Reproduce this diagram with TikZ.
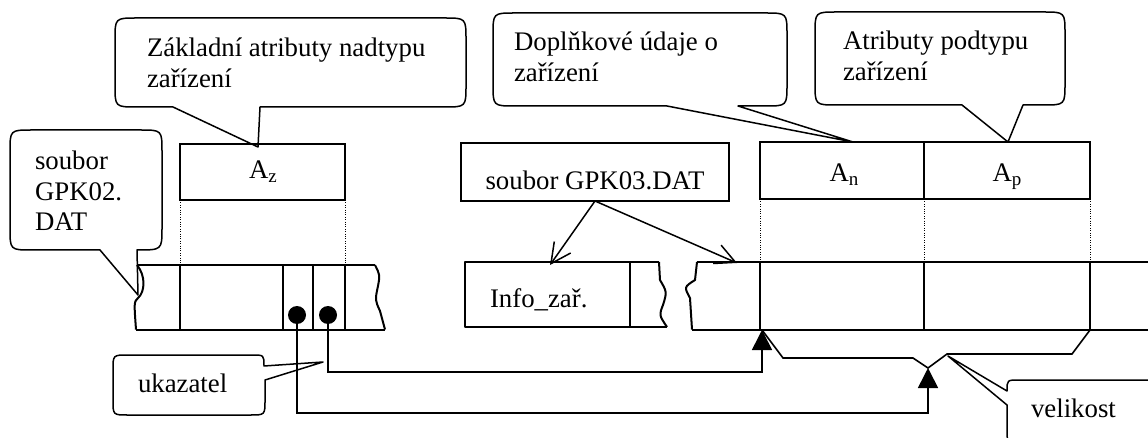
\documentclass[tikz,border=0pt]{standalone}
\usepackage{fontspec}
\setmainfont{Liberation Serif}
\usetikzlibrary{arrows.meta}
\begin{document}
\begin{tikzpicture}[x=1pt,y=-1pt,
  every node/.style={inner sep=0pt, outer sep=0pt, font=\fontsize{26.8}{30.5}\selectfont},
  bubble/.style={draw=black, line width=1.5pt, fill=white, line join=round},
  field/.style={draw=black, line width=2.5pt},
  rec/.style={line width=2pt, line join=round},
  sep/.style={line width=1.6pt},
  guide/.style={line width=1pt, dash pattern=on 1pt off 1.4pt},
  ptr/.style={line width=1.6pt, -{Triangle[length=20pt,width=20pt]}},
  lead/.style={line width=1.5pt, -{Straight Barb[length=20pt,width=20pt]}},
  txt/.style={anchor=base west, align=left},
  ctr/.style={anchor=base},
  dot/.style={circle, fill=black, minimum size=18pt}
]
\useasboundingbox (0,0) rectangle (1148,438);
\fill[white] (0,0) rectangle (1148,438);
\clip (0,0) rectangle (1148,438);

% ---- callout shapes ----
% Základní atributy nadtypu zařízení
\draw[bubble] (173,107) -- (258,147) -- (260,107) -- (444,107)
  .. controls (466,107) .. (466,85) -- (466,40) .. controls (466,18) .. (444,18)
  -- (137,18) .. controls (115,18) .. (115,40) -- (115,85)
  .. controls (115,107) .. (137,107) -- cycle;
% soubor GPK02.DAT
\draw[bubble] (100,250) -- (138,295) -- (137,250)
  .. controls (162,250) .. (162,228) -- (162,152) .. controls (162,130) .. (140,130)
  -- (32,130) .. controls (10,130) .. (10,152) -- (10,228)
  .. controls (10,250) .. (32,250) -- cycle;
% Doplňkové údaje o zařízení
\draw[bubble] (667,106) -- (853,142) -- (738,106) -- (765,106)
  .. controls (787,106) .. (787,84) -- (787,35) .. controls (787,13) .. (765,13)
  -- (515,13) .. controls (493,13) .. (493,35) -- (493,84)
  .. controls (493,106) .. (515,106) -- cycle;
% Atributy podtypu zařízení
\draw[bubble] (962,105) -- (1008,142) -- (1023,105) -- (1043,105)
  .. controls (1065,105) .. (1065,83) -- (1065,34) .. controls (1065,12) .. (1043,12)
  -- (837,12) .. controls (815,12) .. (815,34) -- (815,83)
  .. controls (815,105) .. (837,105) -- cycle;
% ukazatel
\draw[bubble] (265,380) -- (323,362) -- (264,366) .. controls (264,355) .. (252,355)
  -- (128,355) .. controls (113,355) .. (113,370) -- (113,400)
  .. controls (113,415) .. (128,415) -- (250,415) .. controls (265,415) .. (265,400) -- cycle;
% velikost
\draw[bubble] (1007,405) -- (948,356) -- (1007,391) .. controls (1007,380) .. (1019,380)
  -- (1160,380) -- (1160,442) -- (1019,442) .. controls (1007,442) .. (1007,430) -- cycle;

% ---- callout texts (anchored at the baseline of the last line) ----
\node[txt] (tZakl) at (147,87.5) {Základní atributy nadtypu\\zařízení};
\node[txt] (tGpk2) at (35,231) {soubor\\GPK02.\\DAT};
\node[txt] (tDopl) at (514,81.5) {Doplňkové údaje o\\zařízení};
\node[txt] (tAtr) at (843,80.5) {Atributy podtypu\\zařízení};
\node[txt] (tUk) at (138,392) {ukazatel};
\node[txt] (tVel) at (1031,417) {velikost};

% ---- attribute boxes ----
\node[field, minimum width=165pt, minimum height=56pt] (Az) at (262.5,172) {};
\node[field, minimum width=164pt, minimum height=57pt] (An) at (842,170.5) {};
\node[field, minimum width=166pt, minimum height=57pt] (Ap) at (1007,170.5) {};
\node[field, minimum width=268pt, minimum height=58pt] (gpk3) at (595,172) {};
\node[ctr] (tAz) at (263,179) {A\raisebox{-4pt}{\fontsize{19}{19}\selectfont z}};
\node[ctr] (tAn) at (844,182) {A\raisebox{-4pt}{\fontsize{19}{19}\selectfont n}};
\node[ctr] (tAp) at (1007,182) {A\raisebox{-4pt}{\fontsize{19}{19}\selectfont p}};
\node[ctr] (tGpk3) at (595,190) {soubor GPK03.DAT};

% ---- record of GPK02.DAT ----
\draw[rec] (137,265) -- (375,265);
\draw[rec] (136,329.5) -- (385,329.5);
\draw[rec] (137,265) .. controls (146,276) and (145,292) .. (138,298)
  .. controls (134,302) .. (136,329.5);
\draw[rec] (375,265) .. controls (380,275) .. (378,286)
  .. controls (375,300) .. (380,311) -- (385,329.5);
\foreach \x in {180,283,313,345} \draw[sep] (\x,265) -- (\x,329.5);
\node[dot] (d1) at (297,315) {};
\node[dot] (d2) at (328,315) {};

% ---- record with Info_zař. ----
\draw[rec] (659,262) -- (465,262) -- (465,327) -- (667,327);
\draw[rec] (659,262) -- (660,280) .. controls (667,292) .. (663,305)
  .. controls (659,315) .. (667,327);
\draw[sep] (630,262) -- (630,327);
\node[txt] (tInfo) at (490,307) {Info\_zař.};

% ---- record with A_n and A_p ----
\draw[rec] (697,262) -- (1150,262);
\draw[rec] (692,329.5) -- (1150,329.5);
\draw[rec] (697,262) -- (695,280) .. controls (684,287) .. (690,298) -- (692,329.5);
\draw[sep] (An.south west |- 0,262) -- (An.south west |- 0,329.5);
\draw[sep] (An.south east |- 0,262) -- (An.south east |- 0,329.5);
\draw[sep] (Ap.south east |- 0,262) -- (Ap.south east |- 0,329.5);

% ---- projection guides ----
\draw[guide] (Az.south west) -- (Az.south west |- 0,265);
\draw[guide] (Az.south east) -- (Az.south east |- 0,265);
\draw[guide] (An.south west) -- (An.south west |- 0,262);
\draw[guide] (An.south east) -- (An.south east |- 0,262);
\draw[guide] (Ap.south east) -- (Ap.south east |- 0,262);

% ---- leaders from the file label ----
\coordinate (infoIn) at (550,265);
\coordinate (recIn) at (737,263);
\draw[lead] (gpk3.south) -- (infoIn);
\draw[lead] (gpk3.south) -- (recIn);

% ---- pointers and size bracket ----
\coordinate (tipA) at (762,330);
\coordinate (tipB) at (928,368);
\draw[sep] (tipA) -- (783,358) -- (913,358) -- (tipB) -- (947,354) -- (1072,354) -- (1090,330);
\draw[ptr] (d2.center) -- (d2.center |- 0,372) -| (tipA);
\draw[ptr] (d1.center) -- (d1.center |- 0,413) -| (tipB);
\end{tikzpicture}
\end{document}
